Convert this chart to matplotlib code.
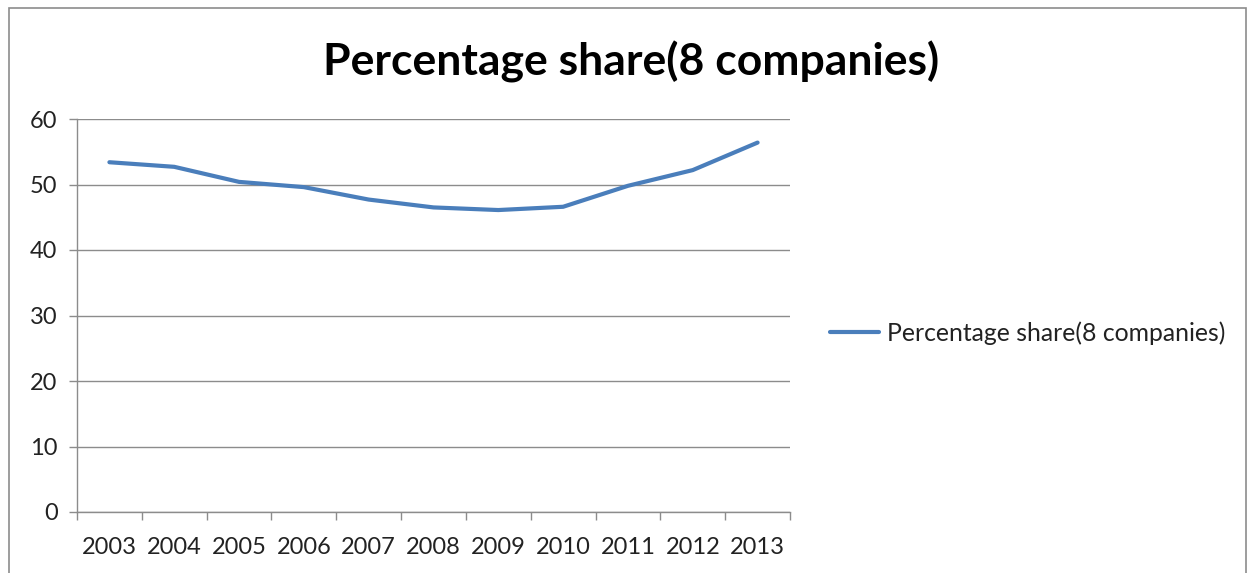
import matplotlib.pyplot as plt
from matplotlib.patches import Rectangle
from matplotlib.ticker import FixedLocator, NullFormatter

# share of the 8 companies, per year
years = ['2003', '2004', '2005', '2006', '2007', '2008',
         '2009', '2010', '2011', '2012', '2013']
share = [53.4, 52.7, 50.4, 49.6, 47.7, 46.5, 46.1, 46.6, 49.8, 52.2, 56.4]
y_ticks = [0, 10, 20, 30, 40, 50, 60]
series_name = 'Percentage share(8 companies)'

plt.rcParams['font.family'] = ['Lato', 'DejaVu Sans']

W, H = 1254, 573
fig = plt.figure(figsize=(W / 100, H / 100), dpi=100)
ax = fig.add_axes([77 / W, 1 - 512 / H, (790 - 77) / W, (512 - 119) / H])

x = list(range(len(years)))
line, = ax.plot(x, share, color='#4a7ebb', lw=3, solid_joinstyle='round',
                solid_capstyle='round', label=series_name)

ax.set_xlim(-0.5, len(years) - 0.5)
ax.set_ylim(0, 60)
ax.set_yticks(y_ticks)
ax.yaxis.grid(True, color='#8c8c8c', lw=1)
ax.set_axisbelow(True)

# labels sit on categories, tick marks between them
ax.set_xticks(x)
ax.set_xticklabels(years)
ax.xaxis.set_minor_locator(FixedLocator([i - 0.5 for i in range(len(years) + 1)]))
ax.xaxis.set_minor_formatter(NullFormatter())
ax.tick_params(axis='x', which='major', length=0, pad=18, labelsize=17,
               colors='#222222')
ax.tick_params(axis='x', which='minor', length=6, color='#8c8c8c', width=1)
ax.tick_params(axis='y', length=6, color='#8c8c8c', width=1, pad=8,
               labelsize=17, labelcolor='#222222')

for s in ['top', 'right']:
    ax.spines[s].set_visible(False)
for s in ['left', 'bottom']:
    ax.spines[s].set_color('#8c8c8c')
    ax.spines[s].set_linewidth(1)

fig.text(631 / W, 1 - 62 / H, 'Percentage share(8 companies)', ha='center',
         va='center', fontsize=32, fontweight='bold', color='black')

leg = fig.legend(handles=[line], loc='center left',
                 bbox_to_anchor=(830 / W, 1 - 333 / H), frameon=False,
                 fontsize=17.8, handlelength=2.0, handletextpad=0.32,
                 borderpad=0, borderaxespad=0, labelcolor='#222222')

# chart border
fig.patches.append(Rectangle((9 / W, -0.1), (1246 - 9) / W, 1.1 - 8 / H,
                             transform=fig.transFigure, fill=False,
                             edgecolor='#8c8c8c', lw=1.2))

fig.savefig('out.png', dpi=100)
